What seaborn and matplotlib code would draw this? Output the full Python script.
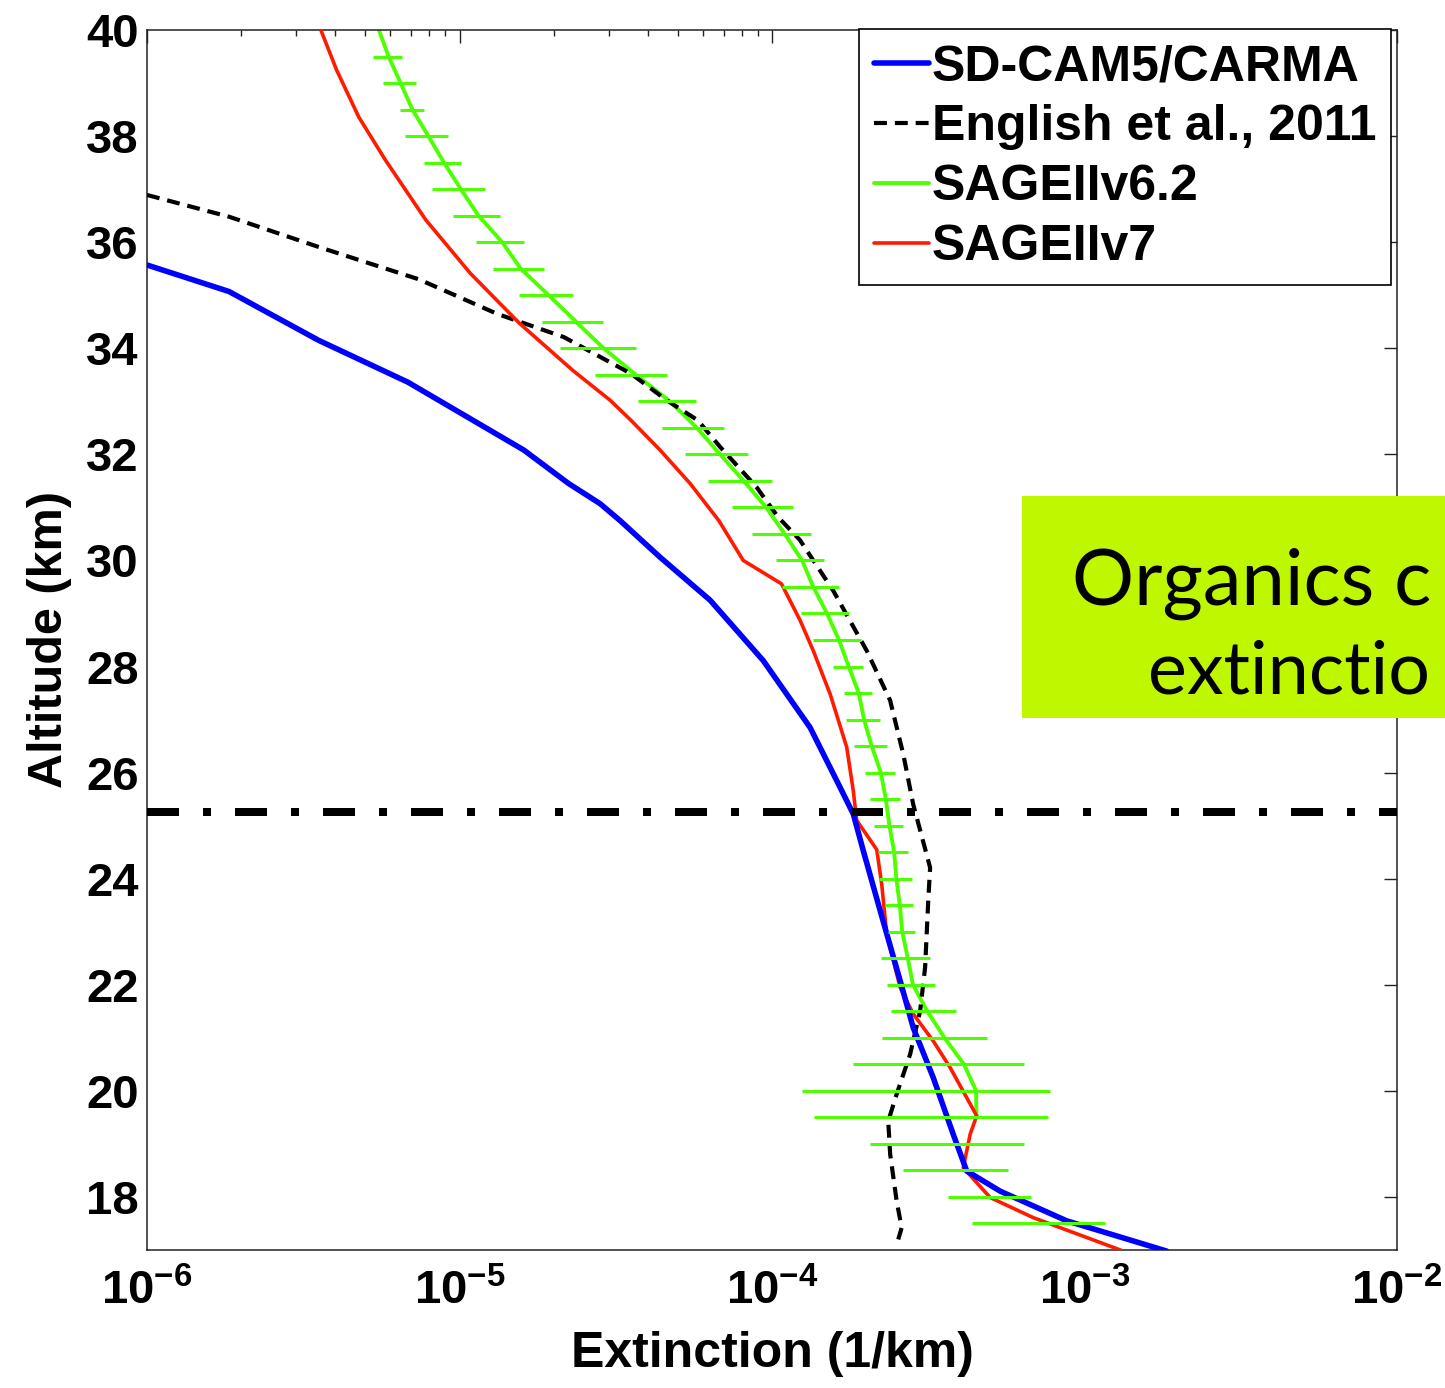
import numpy as np
import pandas as pd
import seaborn as sns
import matplotlib.pyplot as plt
from matplotlib.patches import Rectangle
from matplotlib.ticker import LogLocator, NullFormatter

# ------------------------------
# data
# ------------------------------

# SD-CAM5/CARMA
carma_km = [35.57, 35.07, 34.15, 33.36, 32.77, 32.08, 31.45, 31.07, 30.75, 30.06,
            29.25, 28.11, 26.85, 25.72, 25.22, 24.53, 23.40, 22.08, 21.19, 20.25,
            19.18, 18.49, 18.11, 17.55, 16.98]
carma_ext = [1.00e-6, 1.83e-6, 3.54e-6, 6.84e-6, 1.014e-5, 1.607e-5, 2.234e-5, 2.818e-5, 3.266e-5, 4.385e-5,
             6.34e-5, 9.38e-5, 1.324e-4, 1.652e-4, 1.820e-4, 1.959e-4, 2.218e-4, 2.570e-4, 2.831e-4, 3.281e-4,
             3.802e-4, 4.198e-4, 5.370e-4, 8.77e-4, 1.832e-3]

# English et al., 2011
english_km = [36.89, 36.48, 35.91, 35.30, 34.65, 34.21, 33.52, 33.02, 32.64, 32.14,
              31.38, 30.82, 30.38, 29.43, 28.30, 27.36, 26.35, 25.40, 24.21, 23.58,
              22.33, 21.51, 20.69, 19.94, 19.43, 18.81, 17.92, 17.42, 17.20]
english_ext = [1.00e-6, 1.83e-6, 3.54e-6, 7.41e-6, 1.318e-5, 2.158e-5, 3.540e-5, 4.603e-5, 5.794e-5, 6.823e-5,
               8.93e-5, 1.045e-4, 1.230e-4, 1.570e-4, 2.009e-4, 2.388e-4, 2.630e-4, 2.831e-4, 3.206e-4, 3.162e-4,
               3.090e-4, 2.979e-4, 2.767e-4, 2.506e-4, 2.355e-4, 2.388e-4, 2.506e-4, 2.600e-4, 2.535e-4]

# SAGEIIv6.2 (with +/- error)
sage6_km = [40.0, 39.5, 39.0, 38.5, 38.0, 37.5, 37.0, 36.5, 36.0, 35.5,
            35.0, 34.5, 34.0, 33.5, 33.0, 32.5, 32.0, 31.5, 31.0, 30.5,
            30.0, 29.5, 29.0, 28.5, 28.0, 27.5, 27.0, 26.5, 26.0, 25.5,
            25.0, 24.5, 24.0, 23.5, 23.0, 22.5, 22.0, 21.5, 21.0, 20.5,
            20.0, 19.5, 19.0, 18.5, 18.0, 17.5]
sage6_ext = [5.52e-6, 5.93e-6, 6.48e-6, 7.07e-6, 7.95e-6, 8.92e-6, 1.01e-5, 1.15e-5, 1.37e-5, 1.57e-5,
             1.93e-5, 2.36e-5, 2.89e-5, 3.67e-5, 4.71e-5, 5.75e-5, 6.82e-5, 8.12e-5, 9.58e-5, 1.098e-4,
             1.248e-4, 1.356e-4, 1.50e-4, 1.638e-4, 1.76e-4, 1.895e-4, 1.97e-4, 2.085e-4, 2.23e-4, 2.313e-4,
             2.376e-4, 2.46e-4, 2.50e-4, 2.565e-4, 2.61e-4, 2.72e-4, 2.826e-4, 3.14e-4, 3.566e-4, 4.116e-4,
             4.50e-4, 4.51e-4, 4.24e-4, 4.146e-4, 5.20e-4, 8.00e-4]
sage6_err = [0.0, 0.64e-6, 0.78e-6, 0.63e-6, 1.25e-6, 1.22e-6, 1.95e-6, 2.0e-6, 2.4e-6, 2.9e-6,
             3.8e-6, 5.2e-6, 7.9e-6, 9.5e-6, 9.9e-6, 1.29e-5, 1.55e-5, 1.86e-5, 2.12e-5, 2.33e-5,
             2.2e-5, 2.8e-5, 2.6e-5, 2.9e-5, 1.9e-5, 2.0e-5, 2.4e-5, 2.55e-5, 2.45e-5, 2.55e-5,
             2.56e-5, 2.7e-5, 3.0e-5, 2.67e-5, 2.56e-5, 4.8e-5, 5.0e-5, 7.3e-5, 1.32e-4, 2.3e-4,
             3.25e-4, 3.15e-4, 2.18e-4, 1.53e-4, 1.55e-4, 3.62e-4]

# SAGEIIv7
sage7_km = [40.00, 39.25, 38.36, 37.55, 36.42, 35.41, 34.47, 33.58, 33.02, 32.64,
            32.08, 31.45, 30.75, 30.00, 29.56, 28.87, 28.30, 27.48, 26.48, 25.66,
            25.10, 24.55, 23.90, 22.96, 21.95, 21.45, 20.94, 20.44, 19.53, 19.18,
            18.55, 17.99, 17.61, 16.98]
sage7_ext = [3.60e-6, 4.04e-6, 4.76e-6, 5.79e-6, 7.80e-6, 1.084e-5, 1.556e-5, 2.307e-5, 3.034e-5, 3.540e-5,
             4.385e-5, 5.47e-5, 6.76e-5, 8.09e-5, 1.072e-4, 1.230e-4, 1.355e-4, 1.535e-4, 1.734e-4, 1.820e-4,
             1.866e-4, 2.163e-4, 2.244e-4, 2.328e-4, 2.570e-4, 2.831e-4, 3.281e-4, 3.715e-4, 4.519e-4, 4.305e-4,
             4.093e-4, 4.989e-4, 6.855e-4, 1.330e-3]

tropopause_km = 25.25  # dash-dot reference line

xlim = (1e-6, 1e-2)
ylim = (17, 40)
yticks = [18, 20, 22, 24, 26, 28, 30, 32, 34, 36, 38, 40]

label_carma = "SD-CAM5/CARMA"
label_english = "English et al., 2011"
label_sage6 = "SAGEIIv6.2"
label_sage7 = "SAGEIIv7"
box_lines = ["Organics c", "extinctio"]

# ------------------------------
# style
# ------------------------------
sns.set_style("white")
plt.rcParams['font.family'] = ['Liberation Sans', 'DejaVu Sans']
plt.rcParams['font.weight'] = 'bold'
plt.rcParams['text.color'] = 'black'
plt.rcParams['axes.labelcolor'] = 'black'
plt.rcParams['axes.unicode_minus'] = False
plt.rcParams['mathtext.fontset'] = 'custom'
plt.rcParams['mathtext.rm'] = 'Liberation Sans:bold'
plt.rcParams['mathtext.bf'] = 'Liberation Sans:bold'
plt.rcParams['mathtext.it'] = 'Liberation Sans:bold'
plt.rcParams['mathtext.default'] = 'rm'

FS = 34

fig = plt.figure(figsize=(14.45, 13.88), dpi=100)
ax = fig.add_axes([147 / 1445, 1 - 1250 / 1388, 1250 / 1445, 1220 / 1388])
ax.set_xscale('log')

df_carma = pd.DataFrame({'ext': carma_ext, 'km': carma_km})
df_eng = pd.DataFrame({'ext': english_ext, 'km': english_km})
df_s6 = pd.DataFrame({'ext': sage6_ext, 'km': sage6_km, 'err': sage6_err})
df_s7 = pd.DataFrame({'ext': sage7_ext, 'km': sage7_km})

# green line is hidden under the red/blue below 19.5 km
df_s6_line = df_s6[df_s6['km'] >= 19.5]

sns.lineplot(data=df_carma, x='ext', y='km', sort=False, estimator=None, ax=ax,
             color='#0000ff', lw=4.0, label=label_carma, zorder=5)
sns.lineplot(data=df_eng, x='ext', y='km', sort=False, estimator=None, ax=ax,
             color='black', lw=3.0, dashes=False, label=label_english, zorder=4)
sns.lineplot(data=df_s6_line, x='ext', y='km', sort=False, estimator=None, ax=ax,
             color='#4dff00', lw=2.8, label=label_sage6, zorder=2)
sns.lineplot(data=df_s7, x='ext', y='km', sort=False, estimator=None, ax=ax,
             color='#ff1a00', lw=2.6, label=label_sage7, zorder=4.5)

ax.lines[1].set_dashes((3.1, 1.9))

ax.errorbar(df_s6['ext'], df_s6['km'], xerr=df_s6['err'], fmt='none',
            ecolor='#4dff00', elinewidth=2.2, capsize=0, zorder=6)

ax.axhline(tropopause_km, color='black', lw=5.76, dashes=(4, 3, 1, 3), zorder=7)

ax.set_xlim(*xlim)
ax.set_ylim(*ylim)
ax.set_yticks(yticks)
ax.xaxis.set_major_locator(LogLocator(base=10, numticks=10))
ax.xaxis.set_minor_locator(LogLocator(base=10, subs=np.arange(2, 10), numticks=50))
ax.xaxis.set_minor_formatter(NullFormatter())

ax.tick_params(axis='both', which='both', direction='in', top=True, right=True,
               colors='#222222', labelcolor='black')
ax.tick_params(axis='both', which='major', length=9.4, width=1.0, labelsize=FS)
ax.tick_params(axis='x', which='major', pad=14)
ax.tick_params(axis='y', which='major', pad=6)
ax.tick_params(axis='x', which='minor', length=4.3, width=1.0)
for s in ax.spines.values():
    s.set_linewidth(1.1)
    s.set_color('#222222')

ax.set_xlabel("Extinction (1/km)", fontsize=36, fontweight='bold', labelpad=12, color='black')
ax.set_ylabel("Altitude (km)", fontsize=35, fontweight='bold', labelpad=10, color='black')

leg = ax.legend(loc='upper right', bbox_to_anchor=(1391 / 1445, 1 - 29 / 1388),
                bbox_transform=fig.transFigure, borderaxespad=0, fancybox=False,
                framealpha=1, edgecolor='black', fontsize=36, handlelength=1.1,
                handletextpad=0.06, borderpad=0.3, labelspacing=0.28)
leg.get_frame().set_linewidth(1.2)
for t in leg.get_texts():
    t.set_fontweight('bold')
    t.set_color('black')

# green annotation box, running off the right edge of the figure
box = Rectangle((1022 / 1445, 1 - 718 / 1388), 0.4, 222 / 1388, transform=fig.transFigure,
                facecolor='#bef700', edgecolor='none', zorder=10)
fig.add_artist(box)
fig.text(1072 / 1445, 1 - 605 / 1388, box_lines[0], fontsize=56, family='Lato',
         fontweight='normal', color='black', va='baseline', ha='left', zorder=11)
fig.text(1148 / 1445, 1 - 693 / 1388, box_lines[1], fontsize=53, family='Lato',
         fontweight='normal', color='black', va='baseline', ha='left', zorder=11)

fig.savefig('out.png', dpi=100)
